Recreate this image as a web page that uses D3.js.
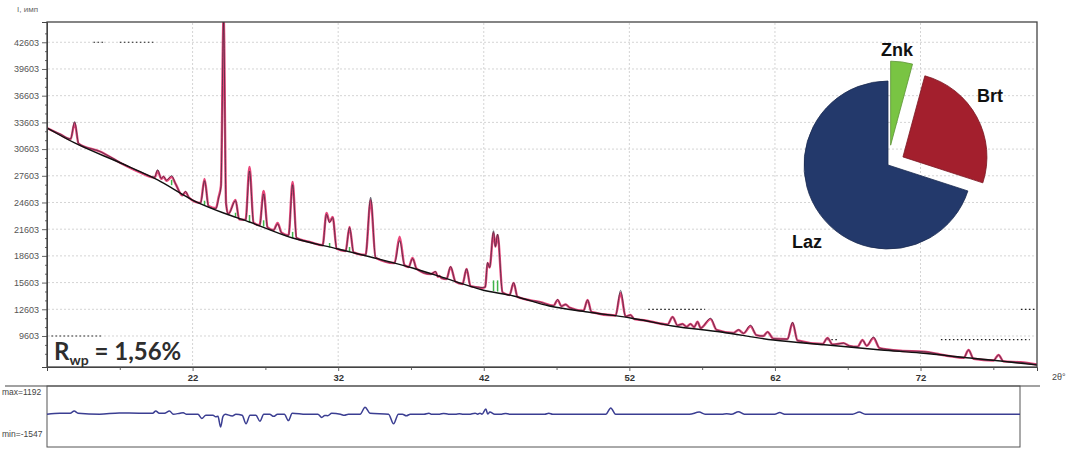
<!DOCTYPE html>
<html>
<head>
<meta charset="utf-8">
<script src="https://cdn.jsdelivr.net/npm/d3@7"></script>
<style>
body { margin: 0; background: #fff; }
svg { display: block; font-family: "Liberation Sans", Arial, sans-serif; }
</style>
</head>
<body>
<svg id="chart" width="1072" height="450"></svg>
<script>
// ---- data ----

// y axis tick labels (counts) and x axis tick labels (2theta, deg)
const yTicks = [9603, 12603, 15603, 18603, 21603, 24603, 27603, 30603, 33603, 36603, 39603, 42603];
const xTicks = [22, 32, 42, 52, 62, 72];
const xMinorTicks = [17, 27, 37, 47, 57, 67, 77];

// profile rows: [2theta, observed, calculated]
const profile = [
  [12.0, 32970, 32970], [12.9, 32300, 32250], [13.62, 31750, 31700], [13.9, 33690, 33540],
  [14.17, 31250, 31200], [15.68, 30300, 30300], [17.05, 29100, 29040], [18.43, 28000, 27950],
  [19.39, 27450, 27400], [19.6, 28290, 28140], [19.85, 27300, 27250], [20.0, 27550, 27500],
  [20.21, 27100, 27050], [20.56, 27620, 27470], [20.83, 26700, 26700], [21.3, 25450, 25400],
  [21.52, 25850, 25780], [21.75, 25150, 25150], [22.55, 24550, 24550], [22.82, 27050, 27250],
  [23.1, 24150, 24200], [23.6, 23900, 23950], [23.79, 25100, 25220], [23.95, 26400, 26500],
  [24.13, 45000, 45600], [24.3, 24400, 24500], [24.45, 23300, 23300], [24.95, 24800, 24880],
  [25.2, 22700, 22700], [25.64, 22600, 22650], [25.91, 28140, 28590], [26.19, 22300, 22350],
  [26.6, 22000, 22050], [26.88, 25570, 25900], [27.15, 21800, 21800], [27.56, 21500, 21500],
  [27.84, 22200, 22300], [28.11, 21200, 21200], [28.59, 20900, 20900], [28.87, 26600, 26900],
  [29.14, 20650, 20600], [30.1, 20150, 20150], [30.93, 19800, 19800], [31.2, 23280, 23430],
  [31.41, 22350, 22410], [31.62, 22900, 22970], [31.9, 19450, 19400], [32.51, 19150, 19150],
  [32.78, 21800, 21850], [33.06, 19000, 19000], [33.88, 18700, 18700], [34.23, 25180, 24850],
  [34.57, 18450, 18400], [35.87, 17800, 17800], [36.22, 20310, 20760], [36.56, 17550, 17550],
  [36.84, 17350, 17350], [37.11, 18300, 18370], [37.39, 17150, 17150], [38.35, 16550, 16550],
  [38.69, 16850, 16800], [38.85, 16250, 16250], [38.96, 16350, 16350], [39.1, 16100, 16100],
  [39.44, 16000, 16000], [39.72, 17400, 17360], [40.06, 15700, 15700], [40.54, 15450, 15450],
  [40.82, 17150, 17130], [41.09, 15200, 15200], [41.5, 15100, 15100], [41.92, 15050, 15000],
  [42.1, 15100, 15100], [42.26, 17850, 17800], [42.4, 17300, 17300], [42.67, 21430, 21180],
  [42.8, 19650, 19640], [42.95, 21050, 20950], [43.29, 14500, 14500], [43.77, 14200, 14200],
  [44.05, 15600, 15560], [44.32, 14000, 14000], [45.9, 13400, 13400], [46.79, 13000, 13000],
  [47.07, 13700, 13650], [47.34, 12950, 12950], [47.62, 13150, 13150], [47.89, 12800, 12800],
  [48.85, 12450, 12450], [49.13, 13650, 13650], [49.4, 12300, 12300], [51.05, 11900, 11900],
  [51.4, 14730, 14430], [51.74, 11800, 11800], [52.08, 11960, 11960], [52.35, 11500, 11500],
  [53.11, 11350, 11350], [54.62, 10900, 10900], [54.97, 11740, 11740], [55.31, 10800, 10800],
  [55.65, 10950, 10950], [55.93, 10650, 10650], [56.2, 10950, 10950], [56.45, 10600, 10600],
  [56.68, 11200, 11200], [56.9, 10500, 10500], [57.58, 11600, 11500], [57.99, 10300, 10300],
  [59.16, 9950, 9950], [59.5, 10300, 10280], [59.84, 9900, 9900], [60.32, 10820, 10700],
  [60.73, 9700, 9700], [61.2, 9600, 9600], [61.49, 10050, 10050], [61.9, 9300, 9300],
  [62.86, 9250, 9250], [63.21, 11140, 11060], [63.55, 9100, 9100], [65.27, 8700, 8700],
  [65.61, 9380, 9380], [65.96, 8650, 8650], [66.71, 8800, 8800], [67.1, 8500, 8500],
  [67.67, 8400, 8400], [68.02, 9150, 9150], [68.3, 8500, 8500], [68.77, 9480, 9380],
  [69.18, 8250, 8250], [69.73, 8100, 8100], [70.63, 7950, 7950], [72.21, 7850, 7850],
  [73.93, 7350, 7350], [74.96, 7150, 7150], [75.3, 8030, 8030], [75.64, 7050, 7050],
  [77.01, 6850, 6850], [77.36, 7470, 7470], [77.7, 6750, 6750], [78.87, 6650, 6650],
  [80.0, 6400, 6400]
];

// background knots: [2theta, counts]
const background = [
  [12.0, 32970], [13.9, 31290], [17.05, 29040], [19.6, 27130], [22.0, 24880], [24.13, 23420],
  [25.91, 22410], [28.87, 20610], [32.0, 19380], [34.23, 18480], [37.11, 17240], [39.72, 15900],
  [41.92, 14770], [44.05, 14100], [46.5, 12970], [49.13, 12300], [52.08, 11630], [54.97, 10730],
  [58.3, 10050], [61.9, 9150], [65.61, 8590], [69.3, 8030], [72.0, 7690], [75.4, 7130],
  [77.5, 6790], [80.0, 6345]
];

// green phase sticks: [2theta, low, high]
const greenSticks = [
  [20.56, 26550, 27150], [22.82, 24300, 24800], [24.95, 23000, 23450], [25.91, 22350, 23200],
  [26.88, 21900, 22600], [28.87, 20600, 21300], [31.41, 19550, 20050], [32.78, 19150, 19600],
  [42.67, 14650, 15850], [42.95, 14600, 15850]
];

// darker dotted bits on the grid: [from 2theta, to 2theta, counts]
const darkDots = [
  [15.2, 15.9, 42603], [17.0, 19.3, 42603], [12.3, 15.7, 9603],
  [53.3, 57.2, 12603], [78.9, 79.9, 12603], [73.4, 79.5, 9200], [65.6, 66.4, 9200]
];

// difference panel range
const diffMax = 1192;
const diffMin = -1547;

// phase fractions for the pie
const phases = ["Znk", "Brt", "Laz"];
const fractions = [4.2, 25.8, 70];
const phaseColors = ["#79c443", "#a31f2d", "#23396b"];

// ---- drawing ----
const svg = d3.select("#chart");

const x = d3.scaleLinear().domain([12, 80]).range([47, 1037]);
const y = d3.scaleLinear().domain([6120, 44880]).range([367, 22]);

svg.append("defs").append("clipPath").attr("id", "plotClip")
  .append("rect").attr("x", 47).attr("y", 22).attr("width", 990).attr("height", 345);

// grid
let grid = svg.append("g").attr("class", "grid");
grid.selectAll(".hgrid").data(yTicks).enter().append("line")
  .attr("x1", 48).attr("x2", 1036)
  .attr("y1", d => y(d)).attr("y2", d => y(d))
  .attr("stroke", "#d4d4d4").attr("stroke-dasharray", "2,2");
grid.selectAll(".vgrid").data(xTicks).enter().append("line")
  .attr("y1", 23).attr("y2", 366)
  .attr("x1", d => x(d)).attr("x2", d => x(d))
  .attr("stroke", "#d4d4d4").attr("stroke-dasharray", "2,2");
grid.selectAll(".dots").data(darkDots).enter().append("line")
  .attr("x1", d => x(d[0])).attr("x2", d => x(d[1]))
  .attr("y1", d => y(d[2])).attr("y2", d => y(d[2]))
  .attr("stroke", "#222").attr("stroke-width", 1.2).attr("stroke-dasharray", "1.5,2.5");

// curves
let curves = svg.append("g").attr("clip-path", "url(#plotClip)");

let obsLine = d3.line().x(d => x(d[0])).y(d => y(d[1])).curve(d3.curveMonotoneX);
let calcLine = d3.line().x(d => x(d[0])).y(d => y(d[2])).curve(d3.curveMonotoneX);
let bgLine = d3.line().x(d => x(d[0])).y(d => y(d[1])).curve(d3.curveMonotoneX);

curves.append("path").datum(profile)
  .attr("d", calcLine).attr("fill", "none")
  .attr("stroke", "#e8467a").attr("stroke-width", 2.4).attr("stroke-linejoin", "round");
curves.append("path").datum(profile)
  .attr("d", obsLine).attr("fill", "none")
  .attr("stroke", "#2d2838").attr("stroke-width", 1).attr("stroke-opacity", 0.7);
curves.selectAll(".green").data(greenSticks).enter().append("line")
  .attr("x1", d => x(d[0])).attr("x2", d => x(d[0]))
  .attr("y1", d => y(d[1])).attr("y2", d => y(d[2]))
  .attr("stroke", "#3fb34a").attr("stroke-width", 1.5);
curves.append("path").datum(background)
  .attr("d", bgLine).attr("fill", "none")
  .attr("stroke", "#111").attr("stroke-width", 1.4);

// axes
let yAxis = svg.append("g").attr("transform", "translate(47,0)")
  .call(d3.axisLeft(y).tickValues(yTicks).tickSize(5).tickPadding(3).tickFormat(d3.format("d")));
svg.append("g").attr("transform", "translate(47,0)")
  .call(d3.axisLeft(y).tickValues(d3.range(7603, 44000, 1000).filter(v => !yTicks.includes(v))).tickSize(2).tickFormat(""))
  .call(g => g.select(".domain").remove());
let xAxis = svg.append("g").attr("transform", "translate(0,367)")
  .call(d3.axisBottom(x).tickValues(xTicks).tickSize(4).tickPadding(3).tickFormat(d3.format("d")));
svg.append("g").attr("transform", "translate(0,367)")
  .call(d3.axisBottom(x).tickValues(xMinorTicks).tickSize(3).tickFormat(""))
  .call(g => g.select(".domain").remove());

svg.selectAll(".tick line").attr("stroke", "#666");
yAxis.selectAll("text").attr("font-size", 9).attr("fill", "#555");
xAxis.selectAll("text").attr("font-size", 9.5).attr("font-weight", "bold").attr("fill", "#333");
svg.selectAll(".domain").attr("stroke", "#444");

// frame
svg.append("rect").attr("x", 47).attr("y", 22).attr("width", 990).attr("height", 345)
  .attr("fill", "none").attr("stroke", "#444").attr("stroke-width", 1.3);

svg.append("text").attr("x", 17).attr("y", 12).attr("font-size", 8).attr("fill", "#666").text("I, имп");
svg.append("text").attr("x", 1052).attr("y", 380).attr("font-size", 9).attr("fill", "#444").text("2θ°");

// Rwp
let rwp = svg.append("text").attr("x", 54).attr("y", 360)
  .attr("font-family", "Lato, 'Open Sans', sans-serif").attr("font-weight", 700)
  .attr("font-size", 24).attr("fill", "#2e2e2e");
rwp.append("tspan").text("R");
rwp.append("tspan").attr("font-size", 14).attr("dy", 5).text("wp");
rwp.append("tspan").attr("dy", -5).text(" = 1,56%");

// difference panel
const xd = d3.scaleLinear().domain([12, 80]).range([47, 1020]);
const yd = d3.scaleLinear().domain([diffMin, diffMax]).range([447, 389]);

svg.append("line").attr("x1", 5).attr("x2", 1040).attr("y1", 386).attr("y2", 386)
  .attr("stroke", "#444").attr("stroke-width", 1.2);
svg.append("rect").attr("x", 47).attr("y", 386).attr("width", 973).attr("height", 61)
  .attr("fill", "none").attr("stroke", "#555").attr("stroke-width", 1);

let diffLine = d3.line().x(d => xd(d[0])).y(d => yd(d[1] - d[2])).curve(d3.curveMonotoneX);
svg.append("path").datum(profile)
  .attr("d", diffLine).attr("fill", "none")
  .attr("stroke", "#3b3e92").attr("stroke-width", 1.5);

svg.append("text").attr("x", 2).attr("y", 395).attr("font-size", 8.5).attr("fill", "#444").text("max=" + diffMax);
svg.append("text").attr("x", 2).attr("y", 437).attr("font-size", 8.5).attr("fill", "#444").text("min=" + diffMin);

// pie
const pieCenter = [888, 165], pieR = 84;
const explode = [20, 17, 0];
let arcs = d3.pie().sort(null).value(d => d)(fractions);
let arcGen = d3.arc().innerRadius(0).outerRadius(pieR);
let pie = svg.append("g").attr("transform", `translate(${pieCenter[0]},${pieCenter[1]})`);
pie.selectAll("path").data(arcs).enter().append("path")
  .attr("d", arcGen)
  .attr("transform", (d, i) => {
    let a = (d.startAngle + d.endAngle) / 2;
    return `translate(${Math.sin(a) * explode[i]},${-Math.cos(a) * explode[i]})`;
  })
  .attr("fill", (d, i) => phaseColors[i])
  .attr("stroke", (d, i) => d3.color(phaseColors[i]).darker(0.8))
  .attr("stroke-width", 0.8);

const labelPos = [[897, 56], [990, 102], [807, 248]];
svg.selectAll(".pieLabel").data(phases).enter().append("text")
  .attr("x", (d, i) => labelPos[i][0]).attr("y", (d, i) => labelPos[i][1])
  .attr("text-anchor", "middle").attr("font-weight", "bold").attr("font-size", 18)
  .attr("fill", "#111").text(d => d);
</script>
</body>
</html>
